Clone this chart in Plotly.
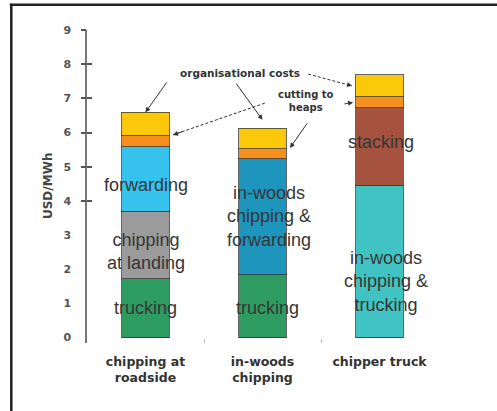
import plotly.graph_objects as go

categories = ["chipping at<br>roadside", "in-woods<br>chipping", "chipper truck"]

trucking = [1.72, 1.84, None]
chipping_landing = [1.97, None, None]
forwarding = [1.90, None, None]
inwoods_fwd = [None, 3.39, None]
inwoods_truck = [None, None, 4.44]
stacking = [None, None, 2.28]
cutting = [0.32, 0.29, 0.32]
organisational = [0.68, 0.60, 0.65]

y_ticks = list(range(0, 10))
y_cross_ticks = [4, 5, 6, 7, 8, 9]

series = [
    ("trucking", trucking, "#2e9c60"),
    ("chipping at landing", chipping_landing, "#9b9b9b"),
    ("forwarding", forwarding, "#35c3ee"),
    ("in-woods chipping & forwarding", inwoods_fwd, "#1d95bd"),
    ("in-woods chipping & trucking", inwoods_truck, "#42c3c3"),
    ("stacking", stacking, "#a5523f"),
    ("cutting to heaps", cutting, "#f5901f"),
    ("organisational costs", organisational, "#fcc90a"),
]

fig = go.Figure()
for name, vals, col in series:
    fig.add_trace(go.Bar(
        x=categories, y=vals, name=name, width=0.41,
        marker=dict(color=col, line=dict(color="rgba(50,50,50,0.75)", width=1)),
    ))

# cumulative bottoms/tops for label placement
def seg_bounds(idx, series_idx):
    base = 0.0
    for k in range(series_idx):
        v = series[k][1][idx]
        if v is not None:
            base += v
    v = series[series_idx][1][idx]
    return base, base + v

def total(idx):
    return sum(s[1][idx] for s in series if s[1][idx] is not None)

label_font = dict(family="Liberation Sans, Arial", size=18, color="#363636")
inbar = [
    # (category index, series index, text, xshift, yshift)
    (0, 0, "trucking", 0, 0),
    (0, 1, "chipping<br>at landing", 0, -6),
    (0, 2, "forwarding", 0, -6),
    (1, 0, "trucking", 5, -2),
    (1, 3, "in-woods<br>chipping &<br>forwarding", 6, 0),
    (2, 5, "stacking", 1, 5),
    (2, 4, "in-woods<br>chipping &<br>trucking", 6, -20),
]
annotations = []
for ci, si, txt, xs, ys in inbar:
    b, t = seg_bounds(ci, si)
    annotations.append(dict(
        x=ci, y=(b + t) / 2, xref="x", yref="y", text=txt, showarrow=False,
        font=label_font, xshift=xs, yshift=ys,
    ))

small_bold = dict(family="DejaVu Sans", size=10.5, color="#333333", weight="bold")

# callout texts
annotations.append(dict(x=0.81, y=7.75, xref="x", yref="y", text="organisational costs",
                        showarrow=False, font=small_bold))
annotations.append(dict(x=1.37, y=6.93, xref="x", yref="y", text="cutting to<br>heaps",
                        showarrow=False, font=dict(small_bold, size=10)))

b1_cut = seg_bounds(0, 6)
b2_cut = seg_bounds(1, 6)
b3_cut = seg_bounds(2, 6)
b3_org = seg_bounds(2, 7)

# arrows: (head_x, head_y, tail_x, tail_y, dashed)
arrows = [
    (0.0, total(0), 0.19, 7.51, False),
    (1.0, total(1) + 0.25, 0.765, 7.48, False),
    (1.765, (b3_org[0] + b3_org[1]) / 2, 1.39, 7.71, True),
    (0.235, b1_cut[1] + 0.02, 1.02, 6.86, True),
    (1.235, b2_cut[1] + 0.03, 1.39, 6.31, False),
    (1.774, (b3_cut[0] + b3_cut[1]) / 2, 1.688, 6.83, False),
]
shapes = []
for hx, hy, tx, ty, dashed in arrows:
    if dashed:
        shapes.append(dict(type="line", xref="x", yref="y", x0=tx, y0=ty, x1=hx, y1=hy,
                           line=dict(color="#333333", width=1, dash="3px,2px")))
        sx = hx + (tx - hx) * 0.12
        sy = hy + (ty - hy) * 0.12
        annotations.append(dict(x=hx, y=hy, ax=sx, ay=sy, xref="x", yref="y", axref="x", ayref="y",
                                text="", showarrow=True, arrowhead=2, arrowsize=1, arrowwidth=1,
                                arrowcolor="#333333"))
    else:
        annotations.append(dict(x=hx, y=hy, ax=tx, ay=ty, xref="x", yref="y", axref="x", ayref="y",
                                text="", showarrow=True, arrowhead=2, arrowsize=1, arrowwidth=1,
                                arrowcolor="#333333"))

# y axis title
annotations.append(dict(x=-0.1125, y=0.50, xref="paper", yref="paper", text="USD/MWh",
                        textangle=-90, showarrow=False, xanchor="center", yanchor="middle",
                        font=dict(family="DejaVu Sans", size=12, color="#444444", weight="bold")))

# frame lines (top & left)
shapes.append(dict(type="line", xref="paper", yref="paper", x0=-0.2157, x1=-0.2157, y0=1.084, y1=-0.22,
                   line=dict(color="#222222", width=2.5)))
shapes.append(dict(type="line", xref="paper", yref="paper", x0=-0.22, x1=1.17, y0=1.0808, y1=1.0808,
                   line=dict(color="#222222", width=2.5)))

fig.update_layout(
    width=497, height=411,
    margin=dict(l=87, r=59, t=30, b=68),
    paper_bgcolor="white", plot_bgcolor="white",
    barmode="stack", showlegend=False,
    annotations=annotations, shapes=shapes,
    xaxis=dict(
        type="category", showgrid=False, showline=False, zeroline=False,
        ticks="inside", ticklen=4, tickcolor="#bbbbbb", tickwidth=1, tickson="boundaries",
        tickfont=dict(family="DejaVu Sans", size=12.5, color="#333333", weight="bold"),
        ticklabelstandoff=9,
    ),
    yaxis=dict(
        range=[-0.16, 9], showgrid=False, zeroline=False, showline=True,
        linecolor="#777777", linewidth=1.5, ticks="", tickvals=y_ticks,
        tickfont=dict(family="DejaVu Sans", size=11, color="#555555", weight="bold"),
        ticklabelstandoff=12,
    ),
    yaxis2=dict(
        range=[-0.16, 9], overlaying="y", side="left", showgrid=False, zeroline=False,
        showline=False, ticks="outside", ticklen=5, tickwidth=1.5, tickcolor="#555555",
        tickvals=y_cross_ticks, showticklabels=False,
    ),
    yaxis3=dict(
        range=[-0.16, 9], overlaying="y", side="left", showgrid=False, zeroline=False,
        showline=False, ticks="inside", ticklen=5, tickwidth=1.5, tickcolor="#555555",
        tickvals=y_cross_ticks, showticklabels=False,
    ),
)
# dummy invisible traces to activate the overlay axes
fig.add_trace(go.Scatter(x=[categories[0]], y=[0], yaxis="y2", mode="markers",
                         marker=dict(opacity=0), hoverinfo="skip", showlegend=False))
fig.add_trace(go.Scatter(x=[categories[0]], y=[0], yaxis="y3", mode="markers",
                         marker=dict(opacity=0), hoverinfo="skip", showlegend=False))

fig.write_html("out.html")
